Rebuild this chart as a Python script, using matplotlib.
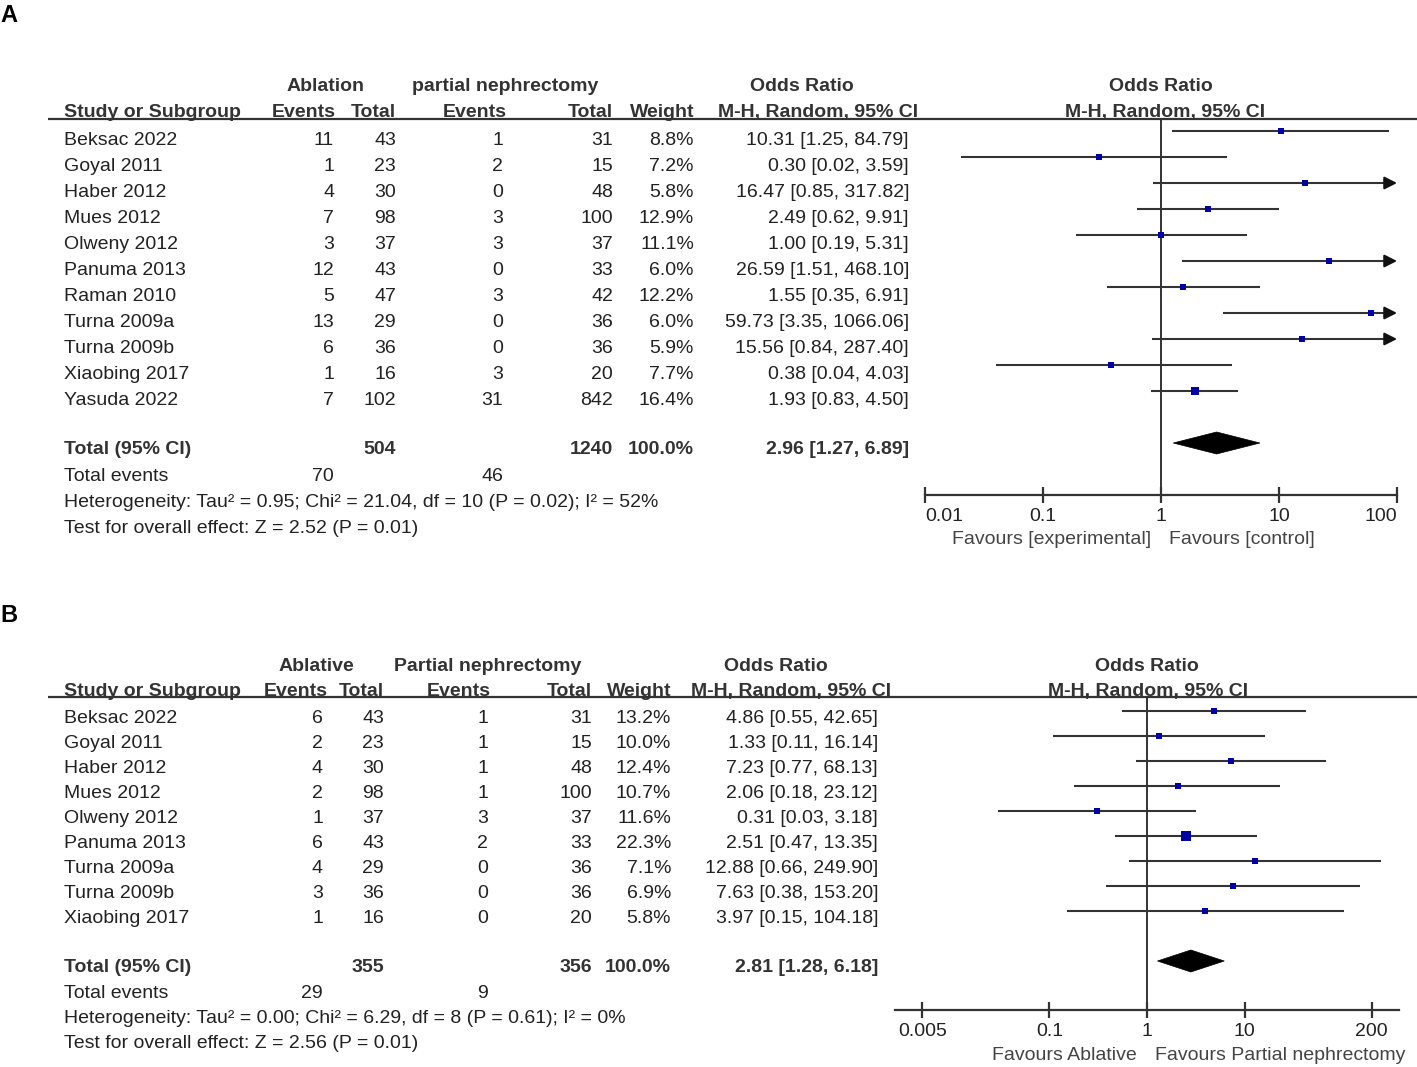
import numpy as np
import matplotlib
matplotlib.use("Agg")
import matplotlib.pyplot as plt
from matplotlib.patches import Polygon

plt.rcParams['font.family'] = ['Liberation Sans', 'DejaVu Sans']

# ---------------- DATA: panel A ----------------
studies_a = ["Beksac 2022", "Goyal 2011", "Haber 2012", "Mues 2012", "Olweny 2012",
             "Panuma 2013", "Raman 2010", "Turna 2009a", "Turna 2009b", "Xiaobing 2017",
             "Yasuda 2022"]
abl_events_a = [11, 1, 4, 7, 3, 12, 5, 13, 6, 1, 7]
abl_total_a = [43, 23, 30, 98, 37, 43, 47, 29, 36, 16, 102]
pn_events_a = [1, 2, 0, 3, 3, 0, 3, 0, 0, 3, 31]
pn_total_a = [31, 15, 48, 100, 37, 33, 42, 36, 36, 20, 842]
weight_a = [8.8, 7.2, 5.8, 12.9, 11.1, 6.0, 12.2, 6.0, 5.9, 7.7, 16.4]
or_a = [10.31, 0.30, 16.47, 2.49, 1.00, 26.59, 1.55, 59.73, 15.56, 0.38, 1.93]
lo_a = [1.25, 0.02, 0.85, 0.62, 0.19, 1.51, 0.35, 3.35, 0.84, 0.04, 0.83]
hi_a = [84.79, 3.59, 317.82, 9.91, 5.31, 468.10, 6.91, 1066.06, 287.40, 4.03, 4.50]
total_a = {"abl_total": 504, "pn_total": 1240, "weight": 100.0,
           "or": 2.96, "lo": 1.27, "hi": 6.89, "abl_events": 70, "pn_events": 46}
het_a = "Heterogeneity: Tau² = 0.95; Chi² = 21.04, df = 10 (P = 0.02); I² = 52%"
test_a = "Test for overall effect: Z = 2.52 (P = 0.01)"
ticks_a = [0.01, 0.1, 1, 10, 100]
ticklabels_a = ["0.01", "0.1", "1", "10", "100"]

# ---------------- DATA: panel B ----------------
studies_b = ["Beksac 2022", "Goyal 2011", "Haber 2012", "Mues 2012", "Olweny 2012",
             "Panuma 2013", "Turna 2009a", "Turna 2009b", "Xiaobing 2017"]
abl_events_b = [6, 2, 4, 2, 1, 6, 4, 3, 1]
abl_total_b = [43, 23, 30, 98, 37, 43, 29, 36, 16]
pn_events_b = [1, 1, 1, 1, 3, 2, 0, 0, 0]
pn_total_b = [31, 15, 48, 100, 37, 33, 36, 36, 20]
weight_b = [13.2, 10.0, 12.4, 10.7, 11.6, 22.3, 7.1, 6.9, 5.8]
or_b = [4.86, 1.33, 7.23, 2.06, 0.31, 2.51, 12.88, 7.63, 3.97]
lo_b = [0.55, 0.11, 0.77, 0.18, 0.03, 0.47, 0.66, 0.38, 0.15]
hi_b = [42.65, 16.14, 68.13, 23.12, 3.18, 13.35, 249.90, 153.20, 104.18]
total_b = {"abl_total": 355, "pn_total": 356, "weight": 100.0,
           "or": 2.81, "lo": 1.28, "hi": 6.18, "abl_events": 29, "pn_events": 9}
het_b = "Heterogeneity: Tau² = 0.00; Chi² = 6.29, df = 8 (P = 0.61); I² = 0%"
test_b = "Test for overall effect: Z = 2.56 (P = 0.01)"
ticks_b = [0.005, 0.1, 1, 10, 200]
ticklabels_b = ["0.005", "0.1", "1", "10", "200"]

# ---------------- FIGURE ----------------
W, H = 1417, 1067
fig = plt.figure(figsize=(W / 100, H / 100), dpi=100)
bg = fig.add_axes([0, 0, 1, 1])
bg.set_xlim(0, W)
bg.set_ylim(H, 0)
bg.axis("off")

FS = 14
TXT = "#222222"
HDR = "#333333"
SQ = "#0000A8"
LINE = "#333333"


def fmt_ci(o, l, h):
    return f"{o:.2f} [{l:.2f}, {h:.2f}]"


def panel(letter, letter_y, hdr1_y, hdr2_y, rule_y, base0, step, line_off, total_base,
          extra_step, cols, hdr1, hdr2, studies, ae, at, pe, pt, wt, ors, los, his, tot,
          het, test, ax_box, xlim, ticks, ticklabels, fav_left, fav_right, fav_split,
          fav_y, edge_align):
    bg.text(0, letter_y, letter, fontsize=17, fontweight="bold", ha="left", va="center",
            color="black")
    for txt, x, ha in hdr1:
        bg.text(x, hdr1_y, txt, fontsize=FS, fontweight="bold", ha=ha, va="baseline",
                color=HDR)
    for txt, x, ha in hdr2:
        bg.text(x, hdr2_y, txt, fontsize=FS, fontweight="bold", ha=ha, va="baseline",
                color=HDR)
    bg.plot([48, W], [rule_y, rule_y], color="#333333", lw=1.6, solid_capstyle="butt")

    n = len(studies)
    ys = base0 + step * np.arange(n)
    c = cols
    kw = dict(fontsize=FS, va="baseline", color=TXT)
    for i in range(n):
        y = ys[i]
        bg.text(c["study"], y, studies[i], ha="left", **kw)
        bg.text(c["ae"], y, str(ae[i]), ha="right", **kw)
        bg.text(c["at"], y, str(at[i]), ha="right", **kw)
        bg.text(c["pe"], y, str(pe[i]), ha="right", **kw)
        bg.text(c["pt"], y, str(pt[i]), ha="right", **kw)
        bg.text(c["w"], y, f"{wt[i]:.1f}%", ha="right", **kw)
        bg.text(c["ci"], y, fmt_ci(ors[i], los[i], his[i]), ha="right", **kw)

    ty = total_base
    bold = dict(fontsize=FS, fontweight="bold", va="baseline", color=HDR)
    bg.text(c["study"], ty, "Total (95% CI)", ha="left", **bold)
    bg.text(c["at"], ty, str(tot["abl_total"]), ha="right", **bold)
    bg.text(c["pt"], ty, str(tot["pn_total"]), ha="right", **bold)
    bg.text(c["w"], ty, f"{tot['weight']:.1f}%", ha="right", **bold)
    bg.text(c["ci"], ty, fmt_ci(tot["or"], tot["lo"], tot["hi"]), ha="right", **bold)
    ey = ty + extra_step[0]
    bg.text(c["study"], ey, "Total events", ha="left", **kw)
    bg.text(c["ae"], ey, str(tot["abl_events"]), ha="right", **kw)
    bg.text(c["pe"], ey, str(tot["pn_events"]), ha="right", **kw)
    bg.text(c["study"], ey + extra_step[1], het, ha="left", **kw)
    bg.text(c["study"], ey + extra_step[1] + extra_step[2], test, ha="left", **kw)

    # forest axes (y data in figure pixels from top)
    left, top, right, bottom = ax_box
    ax = fig.add_axes([left / W, 1 - bottom / H, (right - left) / W, (bottom - top) / H])
    ax.patch.set_alpha(0)
    ax.set_xscale("log")
    ax.set_xlim(*xlim)
    ax.set_ylim(bottom, top)
    for s in ["top", "left", "right"]:
        ax.spines[s].set_visible(False)
    ax.spines["bottom"].set_linewidth(1.6)
    ax.spines["bottom"].set_color("#333333")
    ax.set_yticks([])
    ax.set_xticks(ticks)
    ax.set_xticklabels(ticklabels)
    ax.minorticks_off()
    ax.tick_params(axis="x", direction="inout", length=11, width=1.6, color="#333333",
                   labelsize=FS, labelcolor=TXT, pad=4)
    labs = ax.get_xticklabels()
    if edge_align:
        labs[0].set_ha("left")
        labs[-1].set_ha("right")
    ax.axvline(1, color="#333333", lw=1.4, zorder=1)

    row_y = ys - line_off
    for i in range(n):
        y = row_y[i]
        lo = max(los[i], xlim[0])
        if his[i] > xlim[1]:
            ax.plot([lo, xlim[1] * 0.9], [y, y], color=LINE, lw=1.5, zorder=2,
                    solid_capstyle="butt")
            ax.annotate("", xy=(xlim[1], y), xytext=(xlim[1] * 0.8, y),
                        arrowprops=dict(arrowstyle="-|>,head_length=0.75,head_width=0.38",
                                        color="#111111", lw=1.5, shrinkA=0, shrinkB=0),
                        annotation_clip=False, zorder=3)
        else:
            ax.plot([lo, his[i]], [y, y], color=LINE, lw=1.5, zorder=2,
                    solid_capstyle="butt")
        side_px = 3.5 + 0.26 * wt[i]
        ax.plot(ors[i], y, marker="s", ms=side_px * 0.72, color=SQ, mec=SQ, mew=0,
                zorder=4, linestyle="none")

    dy = total_base - 11
    h = 11
    diamond = Polygon([(tot["lo"], dy), (tot["or"], dy - h), (tot["hi"], dy),
                       (tot["or"], dy + h)], closed=True, facecolor="black",
                      edgecolor="black", lw=0.5, zorder=4)
    ax.add_patch(diamond)

    bg.text(fav_split - 9, fav_y, fav_left, fontsize=FS, ha="right", va="center",
            color="#444444")
    bg.text(fav_split + 9, fav_y, fav_right, fontsize=FS, ha="left", va="center",
            color="#444444")


# Panel A
cols_a = dict(study=64, ae=334, at=396, pe=503, pt=613, w=694, ci=909)
hdr1_a = [("Ablation", 326, "center"), ("partial nephrectomy", 505, "center"),
          ("Odds Ratio", 802, "center"), ("Odds Ratio", 1161, "center")]
hdr2_a = [("Study or Subgroup", 64, "left"), ("Events", 304, "center"), ("Total", 396, "right"),
          ("Events", 475, "center"), ("Total", 613, "right"), ("Weight", 694, "right"),
          ("M-H, Random, 95% CI", 818, "center"), ("M-H, Random, 95% CI", 1165, "center")]
panel("A", 15, 91, 117, 119, 145, 26, 14, 454, (27, 26, 26), cols_a, hdr1_a, hdr2_a,
      studies_a, abl_events_a, abl_total_a, pn_events_a, pn_total_a, weight_a,
      or_a, lo_a, hi_a, total_a, het_a, test_a,
      (925, 119, 1397, 495), (0.01, 100), ticks_a, ticklabels_a,
      "Favours [experimental]", "Favours [control]", 1160, 539, True)

# Panel B
cols_b = dict(study=64, ae=323, at=384, pe=488, pt=592, w=671, ci=878)
hdr1_b = [("Ablative", 316, "center"), ("Partial nephrectomy", 488, "center"),
          ("Odds Ratio", 776, "center"), ("Odds Ratio", 1147, "center")]
hdr2_b = [("Study or Subgroup", 64, "left"), ("Events", 296, "center"), ("Total", 384, "right"),
          ("Events", 459, "center"), ("Total", 592, "right"), ("Weight", 671, "right"),
          ("M-H, Random, 95% CI", 791, "center"), ("M-H, Random, 95% CI", 1148, "center")]
panel("B", 615, 671, 696, 697, 723, 25, 12, 972, (26, 25, 25), cols_b, hdr1_b, hdr2_b,
      studies_b, abl_events_b, abl_total_b, pn_events_b, pn_total_b, weight_b,
      or_b, lo_b, hi_b, total_b, het_b, test_b,
      (895, 697, 1399, 1010), (1 / 380, 380), ticks_b, ticklabels_b,
      "Favours Ablative", "Favours Partial nephrectomy", 1146, 1055, False)

fig.savefig("out.png", dpi=100)
